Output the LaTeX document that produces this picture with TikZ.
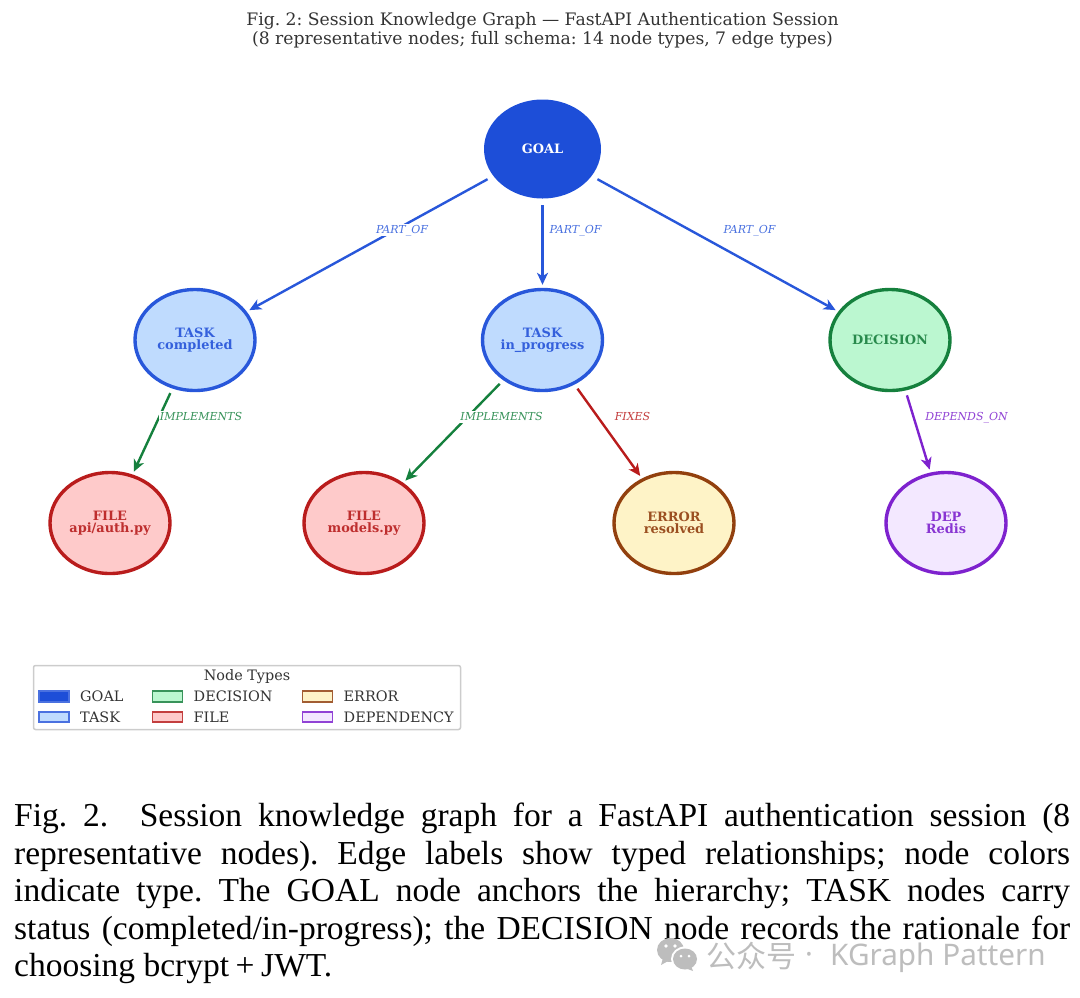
\documentclass[tikz,border=0pt]{standalone}
\usepackage{fontspec}
\setmainfont{Liberation Serif}
\newfontfamily\dvs{DejaVu Serif}
\newfontfamily\cjkf{Noto Sans CJK SC}
\newfontfamily\wmf{Noto Sans}
\usetikzlibrary{shapes.geometric,arrows.meta}
\definecolor{cblue}{HTML}{1D4ED8}
\definecolor{cbluel}{HTML}{BFDBFE}
\definecolor{cgreen}{HTML}{15803D}
\definecolor{cgreenl}{HTML}{BBF7D0}
\definecolor{cred}{HTML}{B91C1C}
\definecolor{credl}{HTML}{FECACA}
\definecolor{cbrown}{HTML}{92400E}
\definecolor{cbrownl}{HTML}{FEF3C7}
\definecolor{cpurp}{HTML}{7E22CE}
\definecolor{cpurpl}{HTML}{F3E8FF}
\definecolor{wmgrey}{HTML}{BDBDBD}
\tikzset{
  gnode/.style={ellipse,line width=3.4pt,minimum width=120pt,minimum height=101pt,inner sep=0pt,align=center,
    font=\dvs\bfseries\fontsize{12.9}{12}\selectfont},
  goalnode/.style={gnode,fill=cblue,minimum width=117pt,minimum height=99pt,text=white},
  tasknode/.style={gnode,fill=cbluel,draw=cblue!95!white,text=cblue!90!white},
  decnode/.style={gnode,fill=cgreenl,draw=cgreen,text=cgreen!92!white},
  filenode/.style={gnode,fill=credl,draw=cred,text=cred!92!white},
  errnode/.style={gnode,fill=cbrownl,draw=cbrown,text=cbrown!92!white},
  depnode/.style={gnode,fill=cpurpl,draw=cpurp,text=cpurp!92!white},
  edgeline/.style={line width=2.4pt,shorten <=5pt,shorten >=3pt,-{Stealth[length=12pt,width=11pt,inset=3.5pt]}},
  edgelabel/.style={font=\dvs\itshape\fontsize{11}{12}\selectfont,inner sep=1pt,fill=white,text height=8pt,text depth=2pt},
  swatch/.style={minimum width=30pt,minimum height=10.5pt,inner sep=0pt,line width=1.8pt},
  legtext/.style={font=\dvs\fontsize{14.4}{15}\selectfont,text=black!80,anchor=west,inner sep=0pt},
}
\begin{document}
\frenchspacing
\begin{tikzpicture}[x=1pt,y=-1pt]
\useasboundingbox (0,0) rectangle (1080,997);
% title
\node[font=\dvs\fontsize{17.2}{19}\selectfont,align=center,text=black!80,inner sep=0pt] (title) at (542.5,30.5)
  {Fig. 2: Session Knowledge Graph — FastAPI Authentication Session\\(8 representative nodes; full schema: 14 node types, 7 edge types)};
% nodes
\node[goalnode] (goal) at (542.5,149) {GOAL};
\node[tasknode] (t1) at (195,340) {TASK\\completed};
\node[tasknode] (t2) at (542.5,340) {TASK\\in\_progress};
\node[decnode] (dec) at (890,340) {DECISION};
\node[filenode] (f1) at (110,523) {FILE\\api/auth.py};
\node[filenode] (f2) at (364,523) {FILE\\models.py};
\node[errnode] (err) at (674,523) {ERROR\\resolved};
\node[depnode] (dep) at (946,523) {DEP\\Redis};
% edges
\draw[edgeline,cblue!95!white] (goal) -- (t1);
\draw[edgeline,cblue!95!white] (goal) -- (t2);
\draw[edgeline,cblue!95!white] (goal) -- (dec);
\draw[edgeline,cgreen] (t1) -- (f1);
\draw[edgeline,cgreen] (t2) -- (f2);
\draw[edgeline,cred] (t2) -- (err);
\draw[edgeline,cpurp] (dec) -- (dep);
% edge labels
\node[edgelabel,text=cblue!80!white] (l1) at (402,230) {PART\_OF};
\node[edgelabel,text=cblue!80!white] (l2) at (575.5,230) {PART\_OF};
\node[edgelabel,text=cblue!80!white] (l3) at (749.5,230) {PART\_OF};
\node[edgelabel,text=cgreen!85!white] (l4) at (201,417) {IMPLEMENTS};
\node[edgelabel,text=cgreen!85!white] (l5) at (501.5,417) {IMPLEMENTS};
\node[edgelabel,text=cred!85!white] (l6) at (632.5,417) {FIXES};
\node[edgelabel,text=cpurp!85!white] (l7) at (966.5,417) {DEPENDS\_ON};
% legend
\node[draw=black!20,line width=1.5pt,rounded corners=2pt,minimum width=427pt,minimum height=64pt,inner sep=0pt] (legbox) at (247,697.5) {};
\node[font=\dvs\fontsize{14.4}{15}\selectfont,text=black!80,inner sep=0pt] (legtitle) at (247,677) {Node Types};
\node[swatch,fill=cblue,draw=cblue!80!white] (s1) at (54,696.5) {};
\node[swatch,fill=cbluel,draw=cblue!80!white] (s2) at (54,717) {};
\node[swatch,fill=cgreenl,draw=cgreen!85!white] (s3) at (167.5,696.5) {};
\node[swatch,fill=credl,draw=cred!85!white] (s4) at (167.5,717) {};
\node[swatch,fill=cbrownl,draw=cbrown!85!white] (s5) at (317.5,696.5) {};
\node[swatch,fill=cpurpl,draw=cpurp!85!white] (s6) at (317.5,717) {};
\node[legtext] (t1l) at (80,696.5) {GOAL};
\node[legtext] (t2l) at (80,717) {TASK};
\node[legtext] (t3l) at (193.5,696.5) {DECISION};
\node[legtext] (t4l) at (193.5,717) {FILE};
\node[legtext] (t5l) at (343.5,696.5) {ERROR};
\node[legtext] (t6l) at (343.5,717) {DEPENDENCY};
% caption
\node[anchor=north west,text width=1056pt,align=justify,inner sep=0pt,font=\fontsize{33.5}{37.5}\selectfont] (caption) at (14,803)
  {Fig. 2.\ \ Session knowledge graph for a FastAPI authentication session (8\linebreak
   representative nodes). Edge labels show typed relationships; node colors\linebreak
   indicate type. The GOAL node anchors the hierarchy; TASK nodes carry\linebreak
   status (completed/in-progress); the DECISION node records the rationale for\linebreak
   choosing bcrypt\kern6.6pt+\kern6.6pt JWT.};
% watermark
\fill[wmgrey] (670.5,950) ellipse (13.5pt and 12pt);
\fill[wmgrey] (663,958) -- (661,965) -- (670,960) -- cycle;
\fill[white] (685,959) ellipse (14pt and 12.5pt);
\fill[wmgrey] (685,959) ellipse (12pt and 10.5pt);
\fill[wmgrey] (691,966) -- (693,971) -- (685,968) -- cycle;
\fill[white] (666,946) circle (1.8pt) (675,946) circle (1.8pt) (681,956) circle (1.5pt) (689,956) circle (1.5pt);
\node[anchor=west,inner sep=0pt,text=wmgrey,font=\cjkf\fontsize{30}{31}\selectfont] (wm1) at (706,956) {公众号};
\node[anchor=center,inner sep=0pt,text=wmgrey,font=\wmf\fontsize{29}{30}\selectfont] (wm2) at (809,958) {·};
\node[anchor=west,inner sep=0pt,text=wmgrey,font=\wmf\fontsize{29.7}{30}\selectfont] (wm3) at (830,958) {KGraph Pattern};
\end{tikzpicture}
\end{document}
